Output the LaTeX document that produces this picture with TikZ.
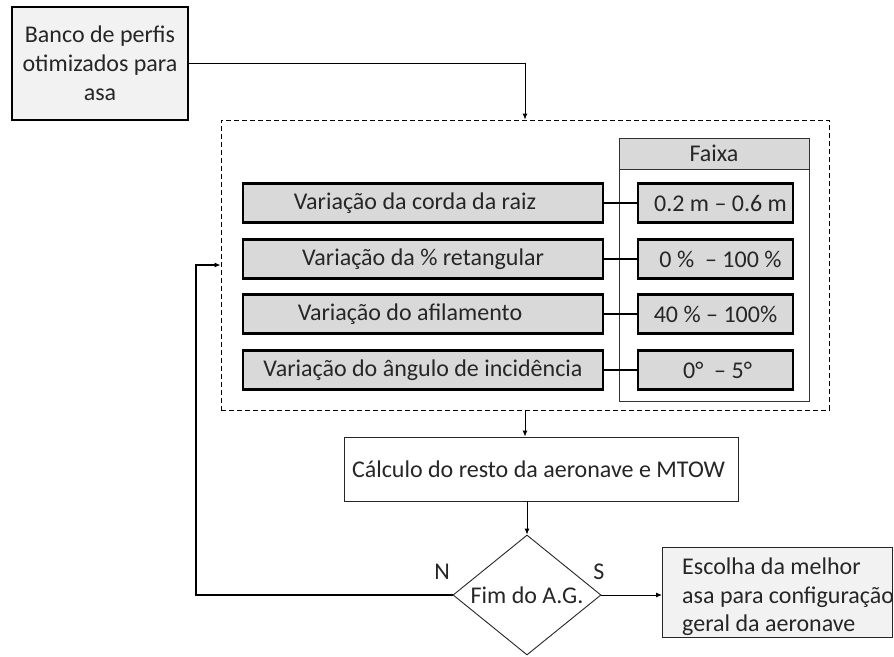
\documentclass[tikz,border=0pt]{standalone}
\usepackage{fontspec}
\setmainfont{Carlito}
\usetikzlibrary{shapes.geometric,arrows.meta}
\definecolor{txt}{HTML}{262626}
\definecolor{lightfill}{HTML}{F2F2F2}
\definecolor{midfill}{HTML}{D9D9D9}
\tikzset{
  every node/.style={text=txt,font=\fontsize{24}{29}\selectfont},
  arr/.style={-{Latex[length=6pt,width=5pt]}},
  rowbox/.style={draw=black,line width=2.4pt,fill=midfill,minimum width=360pt,minimum height=39pt,inner sep=0pt},
  rangebox/.style={draw=black,line width=2.4pt,fill=midfill,minimum width=155pt,minimum height=39pt,inner sep=0pt},
  link/.style={line width=1.8pt},
}
\begin{document}
\begin{tikzpicture}[x=1pt,y=-1pt]
\useasboundingbox (0,0) rectangle (894,656);
\clip (0,0) rectangle (894,656);
\fill[white] (0,0) rectangle (894,656);

% source box
\node[draw=black,line width=2.6pt,fill=lightfill,minimum width=176pt,minimum height=113pt,inner sep=0pt,align=center] (banco) at (100,63.5) {Banco de perfis\\otimizados para\\asa};

% dashed container
\node[draw=black,dash pattern=on 5pt off 3pt,line width=0.8pt,minimum width=608pt,minimum height=290pt,inner sep=0pt] (dash) at (525,265) {};

% Faixa panel
\node[draw=black!80,line width=0.9pt,minimum width=190pt,minimum height=263pt,inner sep=0pt] (panel) at (714,269.5) {};
\node[draw=black!80,line width=0.9pt,fill=midfill,minimum width=190pt,minimum height=31pt,inner sep=0pt] (faixa) at (714,153.5) {Faixa};

% rows
\node[rowbox] (r1) at (423,203) {\hspace*{-16pt}Variação da corda da raiz};
\node[rowbox] (r2) at (423,259) {Variação da \% retangular};
\node[rowbox] (r3) at (423,314) {\hspace*{-26pt}Variação do afilamento};
\node[rowbox] (r4) at (423,370) {Variação do ângulo de incidência};

\node[rangebox] (v1) at (715.5,203) {\hspace*{10pt}0.2 m – 0.6 m};
\node[rangebox] (v2) at (715.5,259) {\hspace*{10pt}0 \%\ \ – 100 \%};
\node[rangebox] (v3) at (715.5,314) {40 \% – 100\%};
\node[rangebox] (v4) at (715.5,370) {\hspace*{4pt}0°\ \ – 5°};

\draw[link] (r1) -- (v1);
\draw[link] (r2) -- (v2);
\draw[link] (r3) -- (v3);
\draw[link] (r4) -- (v4);

% calculation
\node[draw=black!85,line width=0.9pt,fill=white,minimum width=394pt,minimum height=64pt,inner sep=0pt] (calc) at (541,469) {\hspace*{-5pt}Cálculo do resto da aeronave e MTOW};

% decision
\node[diamond,draw=black!85,line width=0.9pt,aspect=1.233,minimum width=148pt,minimum height=120pt,inner sep=0pt] (dia) at (527,595) {Fim do A.G.};

% result
\node[draw=black!85,line width=0.9pt,fill=lightfill,minimum width=230pt,minimum height=90pt,inner sep=0pt,anchor=west] (esc) at (662,592) {};
\node[anchor=west,align=left,inner sep=0pt,font=\fontsize{24}{28.5}\selectfont] (esctext) at (682,597) {Escolha da melhor\\asa para configuração\\geral da aeronave};

% labels
\node (lN) at (442,572) {N};
\node (lS) at (599,572) {S};

% connectors
\draw[arr,line width=0.9pt] (banco.east) -| (dash.north);
\draw[arr,line width=0.9pt] (dash.south) -- (dash.south |- calc.north);
\draw[arr,line width=0.9pt] (dia.north |- calc.south) -- (dia.north);
\draw[arr,line width=0.9pt] (dia.east) -- (esc.west |- dia.east);
\coordinate (fb) at (196,595);
\draw[arr,line width=2.2pt] (dia.west) -- (fb) |- (dash.west);
\end{tikzpicture}
\end{document}
